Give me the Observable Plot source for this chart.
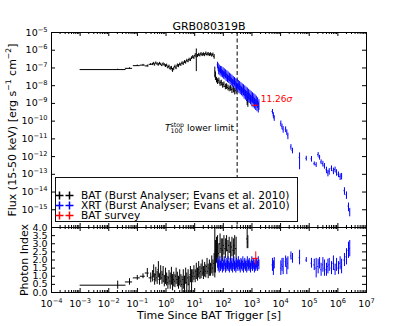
<!DOCTYPE html>
<html><head><meta charset="utf-8">
<script src="https://cdn.jsdelivr.net/npm/d3@7"></script>
<script src="https://cdn.jsdelivr.net/npm/@observablehq/plot@0.6"></script>
<style>
html,body{margin:0;padding:0;background:#fff;}
#chart{position:relative;width:407px;height:326px;overflow:hidden;font-family:"DejaVu Sans";}
#chart svg{position:absolute;left:0;}
</style></head><body><div id="chart"></div>
<script>
// ---------- texts ----------
const title = "GRB080319B";
const xLabel = "Time Since BAT Trigger [s]";
const fluxLabel = "Flux (15-50 keV) [erg s^{−1} cm^{−2}]";
const piLabel = "Photon Index";
const t100Stop = 304;
const t100Note = "*T*_{100}^{stop} lower limit";
const t100NoteFlux = 3.8e-11;
const surveyNote = "11.26*σ*";
const legendLabels = ["BAT (Burst Analyser; Evans et al. 2010)", "XRT (Burst Analyser; Evans et al. 2010)", "BAT survey"];
const legendColors = ["#000000", "#0000ff", "#ff0000"];
// ---------- ticks ----------
const xTickExp = [-4, -3, -2, -1, 0, 1, 2, 3, 4, 5, 6, 7];
const fluxTickExp = [-16, -15, -14, -13, -12, -11, -10, -9, -8, -7, -6, -5];
const fluxLabelExp = [-15, -14, -13, -12, -11, -10, -9, -8, -7, -6, -5];
const piTicks = [0, 0.5, 1, 1.5, 2, 2.5, 3, 3.5, 4];
// ---------- data: [time, timeHalfWidth, flux, fluxFracErr, photonIndex, photonIndexErr] ----------
const bat = [
[0.0205,0.0195,8.1e-8,0.05,0.45,0.25],
[0.053,0.015,9.5e-8,0.08,0.65,0.2],
[0.099,0.027,1.35e-7,0.08,0.9,0.15],
[0.157,0.031,1.45e-7,0.1,1.0,0.15],
[0.222,0.034,1.3e-7,0.12,1.2,0.28],
[0.292,0.036,1.6e-7,0.12,0.9,0.3],
[0.34,0.014,1.6e-7,0.15,1.0,0.35],
[0.37,0.015,1.8e-7,0.15,1.3,0.4],
[0.40,0.016,1.5e-7,0.15,0.8,0.35],
[0.44,0.018,1.9e-7,0.15,1.1,0.45],
[0.49,0.02,1.7e-7,0.15,0.9,0.4],
[0.54,0.022,1.5e-7,0.15,1.4,0.5],
[0.59,0.024,1.8e-7,0.15,0.8,0.35],
[0.65,0.026,1.6e-7,0.15,1.2,0.45],
[0.72,0.029,1.4e-7,0.15,0.9,0.4],
[0.79,0.032,1.7e-7,0.15,1.1,0.5],
[0.87,0.035,1.5e-7,0.15,0.7,0.35],
[0.96,0.038,1.3e-7,0.18,1.0,0.5],
[1.05,0.042,1.4e-7,0.18,0.8,0.4],
[1.16,0.046,1.1e-7,0.2,0.6,0.4],
[1.27,0.05,1.2e-7,0.2,0.9,0.45],
[1.40,0.056,9.5e-8,0.22,0.7,0.5],
[1.54,0.062,1.0e-7,0.22,1.0,0.55],
[1.69,0.068,7.5e-8,0.25,0.6,0.5],
[1.86,0.074,9.0e-8,0.22,0.8,0.45],
[2.05,0.082,1.2e-7,0.2,0.7,0.4],
[2.25,0.09,1.0e-7,0.2,1.0,0.5],
[2.48,0.1,1.4e-7,0.2,0.8,0.45],
[2.73,0.11,1.3e-7,0.2,0.6,0.4],
[3.0,0.12,1.6e-7,0.18,0.9,0.5],
[3.3,0.13,1.5e-7,0.18,0.7,0.4],
[3.63,0.145,1.9e-7,0.18,0.5,0.5],
[4.0,0.16,1.7e-7,0.18,0.8,0.6],
[4.4,0.175,2.2e-7,0.18,0.5,0.5],
[4.84,0.19,2.0e-7,0.18,1.0,0.5],
[5.3,0.21,2.6e-7,0.18,0.6,0.6],
[5.9,0.235,2.4e-7,0.18,0.9,0.5],
[6.4,0.255,3.0e-7,0.18,0.5,0.5],
[7.1,0.28,2.8e-7,0.18,1.1,0.5],
[7.8,0.31,3.6e-7,0.18,0.7,0.7],
[8.6,0.34,4.2e-7,0.2,1.0,0.4],
[9.4,0.37,3.8e-7,0.2,1.2,0.45],
[10.4,0.41,5.0e-7,0.25,1.0,0.4],
[11.4,0.45,6.2e-7,0.9,1.3,0.5],
[12.6,0.5,4.8e-7,0.2,1.1,0.4],
[13.8,0.55,5.6e-7,0.2,1.4,0.5],
[15.2,0.6,5.2e-7,0.2,1.2,0.4],
[16.7,0.66,6.2e-7,0.2,1.3,0.45],
[18.4,0.73,5.5e-7,0.2,1.5,0.5],
[20.2,0.8,6.0e-7,0.2,1.2,0.4],
[22.3,0.88,5.4e-7,0.2,1.4,0.45],
[24.5,0.97,6.6e-7,0.2,1.3,0.4],
[27.0,1.07,5.8e-7,0.2,1.6,0.5],
[29.6,1.18,6.2e-7,0.2,1.3,0.45],
[32.6,1.3,5.5e-7,0.2,1.5,0.5],
[35.9,1.43,6.0e-7,0.2,1.4,0.4],
[39.5,1.57,5.2e-7,0.22,1.7,0.55],
[43.4,1.73,5.7e-7,0.22,1.5,0.5],
[47.8,1.9,4.4e-7,0.3,1.8,0.6],
[50.5,0.8,7.0e-8,0.6,2.5,1.6],
[53.0,1.0,4.0e-8,0.5,2.2,1.0],
[58,2.5,2.2e-8,0.35,2.6,0.8],
[63,2.5,1.8e-8,0.35,2.8,0.7],
[70,3,2.0e-8,0.35,2.4,0.6],
[77,3.5,1.4e-8,0.35,3.0,0.6],
[85,4,1.5e-8,0.35,2.7,0.6],
[95,4.5,1.1e-8,0.35,2.6,0.7],
[105,5,1.2e-8,0.35,2.9,0.6],
[118,6,9.0e-9,0.35,2.7,0.6],
[130,6,9.5e-9,0.35,3.0,0.5],
[145,7,8.0e-9,0.35,2.6,0.6],
[160,8,7.0e-9,0.35,2.9,0.5],
[180,9,7.5e-9,0.35,2.5,0.6],
[200,10,6.0e-9,0.4,2.8,0.6],
[225,11,6.5e-9,0.4,2.6,0.7],
[250,12,5.0e-9,0.4,2.9,0.6],
[280,14,5.5e-9,0.4,2.7,0.7],
[680,25,1.5e-9,0.5,3.3,0.6],
[720,25,1.2e-9,0.5,3.1,0.4]
];
const xrt = [
[63,1.5,1.5e-7,0.4,1.8,0.3],
[66,1.5,1.2e-7,0.45,1.6,0.3],
[69,1.5,7.5e-8,0.45,1.7,0.3],
[72,1.6,1.0e-7,0.45,1.5,0.3],
[76,1.8,6.5e-8,0.45,1.9,0.3],
[80,1.9,8.5e-8,0.45,1.6,0.3],
[84,2,5.5e-8,0.45,1.7,0.3],
[88,2,7.8e-8,0.5,1.8,0.3],
[93,2.2,5.0e-8,0.45,1.5,0.3],
[98,2.3,6.8e-8,0.5,1.7,0.3],
[103,2.4,4.2e-8,0.45,1.6,0.3],
[108,2.5,6.0e-8,0.5,1.9,0.3],
[114,2.7,3.8e-8,0.45,1.7,0.3],
[120,2.8,5.2e-8,0.5,1.5,0.3],
[126,3,3.1e-8,0.45,1.8,0.3],
[133,3.2,4.6e-8,0.5,1.6,0.3],
[140,3.3,2.7e-8,0.45,1.7,0.3],
[147,3.5,4.0e-8,0.5,1.9,0.3],
[155,3.7,2.4e-8,0.45,1.6,0.3],
[163,3.9,3.4e-8,0.5,1.5,0.3],
[172,4.1,2.0e-8,0.45,1.8,0.3],
[181,4.3,3.0e-8,0.5,1.7,0.3],
[190,4.5,1.75e-8,0.45,1.6,0.3],
[200,4.8,2.6e-8,0.5,1.8,0.3],
[211,5,1.5e-8,0.45,1.5,0.3],
[222,5.3,2.2e-8,0.5,1.7,0.3],
[234,5.6,1.3e-8,0.45,1.9,0.3],
[246,5.9,1.9e-8,0.5,1.6,0.3],
[259,6.2,1.15e-8,0.45,1.7,0.3],
[273,6.5,1.65e-8,0.5,1.5,0.3],
[287,6.8,9.5e-9,0.45,1.8,0.3],
[302,7.2,1.45e-8,0.55,1.6,0.3],
[318,7.6,8.5e-9,0.5,1.7,0.3],
[335,8,1.25e-8,0.55,1.9,0.3],
[353,8.4,7.2e-9,0.5,1.6,0.3],
[371,8.8,1.1e-8,0.55,1.7,0.3],
[391,9.3,6.2e-9,0.5,1.5,0.3],
[412,9.8,9.5e-9,0.55,1.8,0.3],
[434,10.3,5.4e-9,0.5,1.7,0.3],
[457,10.9,8.2e-9,0.55,1.6,0.3],
[481,11.5,4.6e-9,0.5,1.9,0.3],
[506,12,7.0e-9,0.6,1.5,0.3],
[533,12.7,3.9e-9,0.55,1.7,0.3],
[561,13.4,6.1e-9,0.6,1.8,0.3],
[591,14,3.4e-9,0.55,1.6,0.3],
[622,14.8,5.2e-9,0.6,1.7,0.3],
[655,15.6,2.9e-9,0.55,1.5,0.3],
[690,16.4,4.6e-9,0.6,1.9,0.3],
[727,17.3,2.5e-9,0.55,1.6,0.3],
[765,18.2,3.9e-9,0.6,1.7,0.3],
[806,19.2,2.2e-9,0.55,1.8,0.3],
[849,20.2,3.4e-9,0.6,1.6,0.3],
[894,21.3,1.85e-9,0.55,1.5,0.3],
[941,22.4,2.9e-9,0.6,1.7,0.3],
[991,23.6,1.6e-9,0.6,1.9,0.3],
[1043,24.8,2.5e-9,0.6,1.6,0.3],
[1099,26.2,1.4e-9,0.6,1.7,0.3],
[1157,27.5,2.2e-9,0.6,1.8,0.3],
[1218,29,1.2e-9,0.6,1.5,0.3],
[1283,30.5,1.9e-9,0.6,1.7,0.3],
[1351,32,1.0e-9,0.6,1.6,0.3],
[1423,34,1.6e-9,0.6,1.8,0.3],
[1498,36,8.5e-10,0.6,1.7,0.3],
[1578,38,1.3e-9,0.6,1.6,0.3],
[1662,40,7.2e-10,0.6,1.9,0.3],
[1750,42,1.0e-9,0.6,1.7,0.3],
[5200,150,3.5e-10,0.3,1.7,0.4],
[5600,160,2.2e-10,0.35,1.5,0.45],
[6000,170,1.5e-10,0.35,1.8,0.35],
[10200,300,7.5e-11,0.35,1.5,0.45],
[11200,320,5.0e-11,0.35,1.7,0.4],
[12300,350,3.5e-11,0.4,1.6,0.5],
[15000,400,3.5e-11,0.35,1.9,0.35],
[16500,450,2.4e-11,0.35,1.6,0.5],
[18000,500,1.5e-11,0.4,1.8,0.4],
[23000,700,3.5e-12,0.35,2.25,0.25],
[26000,800,2.2e-12,0.35,2.1,0.3],
[46000,1500,9e-13,0.8,2.15,0.45],
[79000,2500,8e-13,0.3,2.0,0.15],
[120000,4000,7.5e-13,0.35,1.8,0.3],
[150000,5000,4e-13,0.25,1.7,0.35],
[175000,6000,3.5e-13,0.3,1.5,0.6],
[205000,7000,1.3e-12,0.3,1.6,0.45],
[230000,8000,9e-13,0.3,1.8,0.35],
[260000,9000,5e-13,0.3,1.4,0.4],
[300000,10000,4e-13,0.35,1.7,0.45],
[340000,12000,3e-13,0.35,1.5,0.5],
[400000,14000,1.8e-13,0.4,1.4,0.4],
[450000,15000,1.2e-13,0.4,1.6,0.45],
[500000,17000,1.5e-13,0.4,1.7,0.4],
[600000,20000,2.2e-13,0.35,1.5,0.4],
[700000,24000,1.6e-13,0.4,1.8,0.45],
[800000,27000,1.9e-13,0.35,1.4,0.35],
[900000,30000,1.3e-13,0.4,1.7,0.4],
[1050000,35000,1.0e-13,0.35,1.5,0.4],
[1200000,40000,7.5e-14,0.4,1.8,0.4],
[1350000,45000,8e-14,0.4,1.6,0.45],
[1700000,60000,1.2e-14,0.45,2.0,0.4],
[2000000,70000,7e-15,0.45,2.2,0.5],
[2350000,80000,1.6e-15,0.5,2.6,0.5],
[2600000,90000,8e-16,0.5,2.7,0.5]
];
const survey = [[1360,320,7.8e-10,0.12,2.1,0.4]];

// ---------- layout ----------
const WIDTH = 407, ML = 51, MR = 41;
const W = WIDTH - ML - MR;
const TOP_H = 228, TOP_MT = 32, TOP_MB = 1, HT = TOP_H - TOP_MT - TOP_MB;
const BOT_H = 100, BOT_MT = 1, BOT_MB = 34, HB = BOT_H - BOT_MT - BOT_MB;
const xDomain = [1e-4, 1e7];
const xMajor = xTickExp.map(e => 10 ** e);
const xMinor = [];
for (const e of xTickExp.slice(0, -1)) for (let m = 2; m < 10; m++) xMinor.push(m * 10 ** e);
const expText = e => `10^{${e < 0 ? "−" + (-e) : e}}`;
const font = "DejaVu Sans";

function fluxBars(rows, color) {
  return [
    Plot.ruleY(rows, {y: d => d[2], x1: d => d[0] - d[1], x2: d => d[0] + d[1], stroke: color, strokeWidth: 1, clip: true}),
    Plot.ruleX(rows, {x: d => d[0], y1: d => d[2] * (1 - d[3]), y2: d => d[2] * (1 + d[3]), stroke: color, strokeWidth: 1, clip: true})
  ];
}
function piBars(rows, color) {
  return [
    Plot.ruleY(rows, {y: d => d[4], x1: d => d[0] - d[1], x2: d => d[0] + d[1], stroke: color, strokeWidth: 1, clip: true}),
    Plot.ruleX(rows, {x: d => d[0], y1: d => d[4] - d[5], y2: d => d[4] + d[5], stroke: color, strokeWidth: 1, clip: true})
  ];
}
function xTicks(H) {
  return [
    Plot.ruleX(xMajor, {x: d => d, insetBottom: H - 4, stroke: "black"}),
    Plot.ruleX(xMajor, {x: d => d, insetTop: H - 4, stroke: "black"}),
    Plot.ruleX(xMinor, {x: d => d, insetBottom: H - 2, stroke: "black"}),
    Plot.ruleX(xMinor, {x: d => d, insetTop: H - 2, stroke: "black"})
  ];
}
function yTicks(vals) {
  return [
    Plot.ruleY(vals, {y: d => d, insetRight: W - 4, stroke: "black"}),
    Plot.ruleY(vals, {y: d => d, insetLeft: W - 4, stroke: "black"})
  ];
}

const topPlot = Plot.plot({
  width: WIDTH, height: TOP_H,
  marginTop: TOP_MT, marginBottom: TOP_MB, marginLeft: ML, marginRight: MR,
  style: {background: "transparent", fontFamily: font, fontSize: "9.5px", overflow: "visible"},
  x: {type: "log", domain: xDomain, axis: null},
  y: {type: "log", domain: [1e-16, 1e-5], axis: null},
  marks: [
    Plot.ruleX([t100Stop], {x: d => d, stroke: "black", strokeDasharray: "4,2.5"}),
    ...fluxBars(bat, legendColors[0]),
    ...fluxBars(xrt, legendColors[1]),
    ...fluxBars(survey, legendColors[2]),
    Plot.text([t100Note], {x: () => t100Stop, y: () => t100NoteFlux, text: d => d, textAnchor: "end", dx: -3, fontSize: 9}),
    Plot.text(survey, {x: d => d[0], y: d => d[2], text: () => surveyNote, textAnchor: "start", dx: 5, dy: -6, fill: legendColors[2], fontSize: 9}),
    Plot.frame({stroke: "black"}),
    ...xTicks(HT),
    ...yTicks(fluxTickExp.map(e => 10 ** e)),
    Plot.text(fluxLabelExp, {y: e => 10 ** e, text: e => expText(e), frameAnchor: "left", dx: -4, textAnchor: "end", fontSize: 9.5}),
    Plot.text([title], {frameAnchor: "top", dy: -2.7, lineAnchor: "bottom", textAnchor: "middle", fontSize: 11}),
    Plot.text([fluxLabel], {frameAnchor: "left", dx: -39, rotate: -90, textAnchor: "middle", lineAnchor: "middle", fontSize: 11})
  ]
});

const botPlot = Plot.plot({
  width: WIDTH, height: BOT_H,
  marginTop: BOT_MT, marginBottom: BOT_MB, marginLeft: ML, marginRight: MR,
  style: {background: "transparent", fontFamily: font, fontSize: "9.5px", overflow: "visible"},
  x: {type: "log", domain: xDomain, axis: null},
  y: {domain: [0, 4], axis: null},
  marks: [
    ...piBars(bat, legendColors[0]),
    ...piBars(xrt, legendColors[1]),
    ...piBars(survey, legendColors[2]),
    Plot.frame({stroke: "black"}),
    ...xTicks(HB),
    ...yTicks(piTicks),
    Plot.text(piTicks, {y: d => d, text: d => d.toFixed(1), frameAnchor: "left", dx: -4, textAnchor: "end", fontSize: 9.5}),
    Plot.text(xTickExp, {x: e => 10 ** e, text: e => expText(e), frameAnchor: "bottom", dy: 11.5, lineAnchor: "middle", textAnchor: "middle", fontSize: 9.5}),
    Plot.text([xLabel], {frameAnchor: "bottom", dy: 22.5, lineAnchor: "middle", textAnchor: "middle", fontSize: 11}),
    Plot.text([piLabel], {frameAnchor: "left", dx: -27, rotate: -90, textAnchor: "middle", lineAnchor: "middle", fontSize: 11})
  ]
});

const chart = document.getElementById("chart");
topPlot.style.top = "0px";
chart.appendChild(topPlot);

// legend overlay
const NS = "http://www.w3.org/2000/svg";
const leg = document.createElementNS(NS, "svg");
leg.setAttribute("width", WIDTH); leg.setAttribute("height", 326);
leg.style.top = "0px";
chart.appendChild(leg);
const mk = (tag, attrs) => { const e = document.createElementNS(NS, tag); for (const k in attrs) e.setAttribute(k, attrs[k]); leg.appendChild(e); return e; };
mk("rect", {x: 55.5, y: 177.5, width: 242, height: 44, fill: "#ffffff", stroke: "#111111", "stroke-width": 1});
legendLabels.forEach((lab, i) => {
  const cy = 195.5 + i * 10;
  [59.5, 69.5].forEach(cx => {
    mk("path", {d: `M${cx - 4},${cy}H${cx + 4}M${cx},${cy - 4}V${cy + 4}`, fill: "none", stroke: legendColors[i], "stroke-width": 1.5});
  });
  const t = mk("text", {x: 81, y: cy, dy: "0.36em", fill: "#000000", "font-family": font, "font-size": "10.6"});
  t.textContent = lab;
});

botPlot.style.top = (TOP_H - TOP_MB - BOT_MT) + "px";
chart.appendChild(botPlot);

// rich text: ^{sup}, _{sub}, *italic*
function rich(svg) {
  svg.querySelectorAll("text").forEach(el => {
    const s = el.textContent;
    if (!/[\^_]\{|\*/.test(s)) return;
    const fs = parseFloat(getComputedStyle(el).fontSize) || 10;
    el.textContent = "";
    const re = /([\^_])\{([^}]*)\}|\*([^*]+)\*|([^\^_*]+)/g;
    let m, prevSubW = null, pendingDx = 0;
    while ((m = re.exec(s))) {
      const t = document.createElementNS(NS, "tspan");
      if (m[1]) {
        t.textContent = m[2];
        t.setAttribute("font-size", (fs * 0.7).toFixed(2));
        t.setAttribute("baseline-shift", (m[1] === "^" ? fs * 0.42 : -fs * 0.25).toFixed(2) + "px");
        t.setAttribute("font-style", "normal");
        el.appendChild(t);
        const w = t.getComputedTextLength();
        if (m[1] === "^" && prevSubW != null) {
          t.setAttribute("dx", (-prevSubW).toFixed(2));
          pendingDx = Math.max(0, prevSubW - w);
          prevSubW = null;
        } else if (m[1] === "_") {
          prevSubW = w;
        } else prevSubW = null;
      } else {
        t.textContent = m[3] != null ? m[3] : m[4];
        if (m[3] != null) t.setAttribute("font-style", "italic");
        if (pendingDx) { t.setAttribute("dx", pendingDx.toFixed(2)); pendingDx = 0; }
        el.appendChild(t);
        prevSubW = null;
      }
    }
  });
}
rich(topPlot);
rich(botPlot);
</script></body></html>
